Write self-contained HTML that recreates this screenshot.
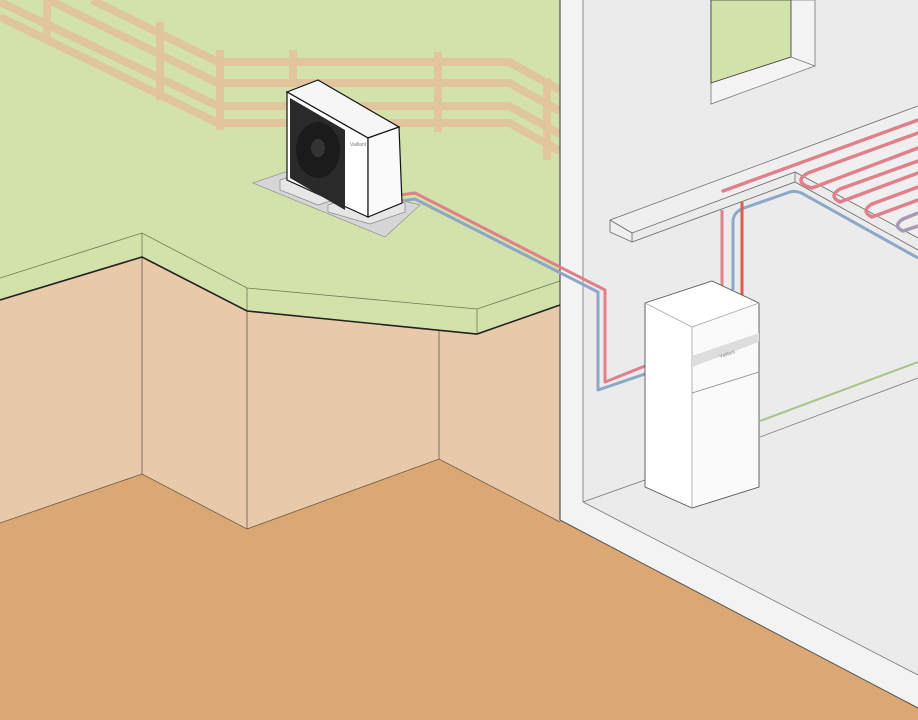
<!DOCTYPE html>
<html><head><meta charset="utf-8"><style>html,body{margin:0;padding:0;background:#fff}svg{display:block}</style></head>
<body>
<svg width="918" height="720" viewBox="0 0 918 720" xmlns="http://www.w3.org/2000/svg">
<rect x="0" y="0" width="918" height="720" fill="#ebebeb"/>
<polygon points="0,0 560,0 560,305 477,334 247,311 142,257 0,300" fill="#d3e1ab"/>
<g stroke="#e3c49c" stroke-width="8" fill="none" stroke-linejoin="round" opacity="0.9">
<polyline points="92,0 218,62 509,62 560,90"/>
<polyline points="49,0 218,83 509,83 560,111"/>
<polyline points="0,2 218,106 509,106 560,134"/>
<polyline points="0,17 218,123 509,123 560,151"/>
</g>
<g fill="#e3c49c" opacity="0.9">
<rect x="43" y="0" width="8" height="38"/>
<rect x="156" y="22" width="8" height="78"/>
<rect x="216" y="50" width="8" height="80"/>
<rect x="289" y="50" width="8" height="30"/>
<rect x="434" y="52" width="8" height="80"/>
<rect x="543" y="78" width="8" height="82"/>
</g>
<polygon points="0,300 142,257 247,311 477,334 560,305 560,522 439,459 247,529 142,474 0,523" fill="#e8c9aa"/>
<polygon points="0,523 142,474 247,529 439,459 560,522 560,518 918,708 918,720 0,720" fill="#dba873"/>
<g stroke="#6b5a4a" stroke-width="0.8" fill="none">
<polyline points="0,523 142,474 247,529 439,459 560,522"/>
<line x1="142" y1="257" x2="142" y2="474"/>
<line x1="247" y1="311" x2="247" y2="529"/>
<line x1="439" y1="331" x2="439" y2="459"/>
</g>
<polyline points="0,278 142,233 247,288 477,309 560,281" fill="none" stroke="#6d7a55" stroke-width="0.8"/>
<line x1="142" y1="233" x2="142" y2="257" stroke="#6d7a55" stroke-width="0.8"/>
<line x1="247" y1="288" x2="247" y2="311" stroke="#6d7a55" stroke-width="0.8"/>
<line x1="477" y1="309" x2="477" y2="334" stroke="#6d7a55" stroke-width="0.8"/>
<polyline points="0,300 142,257 247,311 477,334 560,305" fill="none" stroke="#222" stroke-width="1.6"/>
<polygon points="560,0 583,0 583,502 918,675 918,708 560,520" fill="#f3f3f3"/>
<line x1="560" y1="0" x2="560" y2="520" stroke="#333" stroke-width="1"/>
<line x1="583" y1="0" x2="583" y2="502" stroke="#777" stroke-width="0.8"/>
<line x1="583" y1="502" x2="918" y2="675" stroke="#777" stroke-width="0.8"/>
<line x1="560" y1="520" x2="918" y2="708" stroke="#555" stroke-width="1"/>
<line x1="583" y1="502" x2="645" y2="480" stroke="#777" stroke-width="0.8"/>
<line x1="760" y1="437" x2="918" y2="378" stroke="#777" stroke-width="0.8"/>
<line x1="760" y1="421" x2="918" y2="362" stroke="#a8c487" stroke-width="2"/>
<polygon points="711,0 815,0 815,66 711,104" fill="#f3f3f3" stroke="#777" stroke-width="0.8"/>
<polygon points="711,0 791,0 791,57 711,83" fill="#d3e1ab" stroke="#333" stroke-width="0.8"/>
<line x1="791" y1="57" x2="815" y2="66" stroke="#777" stroke-width="0.8"/>
<polygon points="610,220 918,106 918,238 795,172 632,233 632,242 610,232" fill="#efefef"/>
<g stroke="#666" stroke-width="0.8" fill="none">
<polyline points="610,220 918,106"/>
<polyline points="610,220 632,233 795,172 918,238"/>
<polyline points="610,220 610,232 632,242 795,182 918,250"/>
<line x1="632" y1="233" x2="632" y2="242"/>
<line x1="795" y1="172" x2="795" y2="182"/>
</g>
<g stroke="#e0808a" stroke-width="3.5" fill="none" stroke-linecap="round">
<line x1="723" y1="191" x2="918" y2="120"/>
<path d="M918,133 L808,173 Q795,180 806,186 L812,188 L918,148"/>
<path d="M918,161 L840,189 Q828,196 840,202 L918,173"/>
<path d="M918,187 L872,204 Q860,211 872,217 L918,200"/>
</g>
<path d="M918,213 L903,219 Q892,226 903,231 L918,226" stroke="#a89ab0" stroke-width="3.5" fill="none"/>
<line x1="722" y1="210" x2="722" y2="286" stroke="#e0808a" stroke-width="3"/>
<path d="M733,290 L733,222 Q733,212 744,208 L790,192 Q797,190 805,195 L918,258" stroke="#8da7c7" stroke-width="3" fill="none"/>
<line x1="742" y1="202" x2="742" y2="296" stroke="#d9604f" stroke-width="3"/>
<path d="M400,195 L415,193 L605,290 L605,382 L645,366" stroke="#e0808a" stroke-width="3" fill="none" stroke-linejoin="round"/>
<path d="M400,201 L415,199 L598,292 L598,390 L645,374" stroke="#8da7c7" stroke-width="3" fill="none" stroke-linejoin="round"/>
<polygon points="645,303 712,281 759,303 759,487 692,508 645,487" fill="#fff"/>
<polygon points="692,327 759,303 759,487 692,508" fill="#fafafa"/>
<g stroke="#555" stroke-width="0.9" fill="none">
<polyline points="645,303 712,281 759,303"/>
<polyline points="645,303 645,487 692,508 759,487 759,303"/>
<polyline points="645,303 692,327 759,303" stroke="#aaa"/>
<line x1="692" y1="327" x2="692" y2="508" stroke="#aaa"/>
</g>
<polygon points="692,356 759,333 759,342 692,367" fill="#ddd"/>
<line x1="692" y1="393" x2="759" y2="372" stroke="#888" stroke-width="0.8"/>
<text x="720" y="358" font-family="Liberation Sans, sans-serif" font-size="5" fill="#888" transform="rotate(-18 720 358)">Vaillant</text>
<polygon points="253,183 285,172 420,205 385,237" fill="#d6d6d6" stroke="#999" stroke-width="0.8"/>
<polygon points="280,180 300,174 340,190 340,198 318,205 280,190" fill="#e6e6e6" stroke="#888" stroke-width="0.7"/>
<polygon points="328,205 350,198 405,203 405,212 370,224 328,212" fill="#e6e6e6" stroke="#888" stroke-width="0.7"/>
<polygon points="287,92 318,80 399,127 368,138" fill="#f6f6f6" stroke="#111" stroke-width="1.2"/>
<polygon points="287,92 368,138 368,217 287,180" fill="#fff" stroke="#111" stroke-width="1.2"/>
<polygon points="368,138 399,127 402,203 368,217" fill="#fafafa" stroke="#111" stroke-width="1.2"/>
<polygon points="290,98 345,130 345,210 290,178" fill="#2a2a2a"/>
<ellipse cx="318" cy="150" rx="22" ry="28" fill="#1b1b1b"/>
<ellipse cx="318" cy="148" rx="7" ry="9" fill="#333"/>
<text x="350" y="146" font-family="Liberation Sans, sans-serif" font-size="5" fill="#777">Vaillant</text>
</svg>
</body></html>
